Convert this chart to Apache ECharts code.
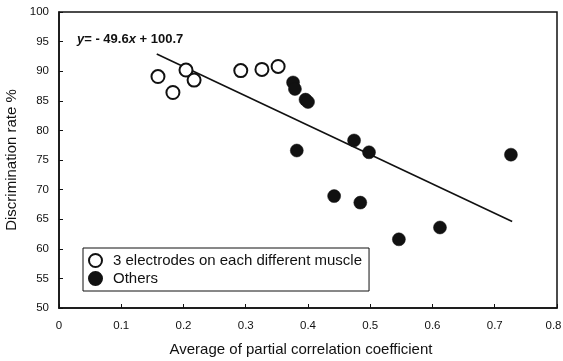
<!DOCTYPE html>
<html><head><meta charset="utf-8">
<script src="https://cdn.jsdelivr.net/npm/echarts@6/dist/echarts.min.js"></script>
<style>html,body{margin:0;padding:0;background:#fff}#c{width:563px;height:361px}</style>
</head><body><div id="c"></div>
<script>
const xTicks = [0, 0.1, 0.2, 0.3, 0.4, 0.5, 0.6, 0.7, 0.8];
const yTicks = [50, 55, 60, 65, 70, 75, 80, 85, 90, 95, 100];
const sameMuscle = [[0.159, 89.1], [0.183, 86.4], [0.204, 90.2], [0.217, 88.5], [0.292, 90.1], [0.326, 90.3], [0.352, 90.8]];
const others = [[0.376, 88.1], [0.379, 87.0], [0.396, 85.2], [0.400, 84.8], [0.382, 76.6], [0.474, 78.3], [0.498, 76.3], [0.726, 75.9], [0.442, 68.9], [0.484, 67.8], [0.546, 61.6], [0.612, 63.6]];
const fitLine = [[0.157, 92.9], [0.728, 64.6]];
const seriesNames = ['3 electrodes on each different muscle', 'Others'];

const chart = echarts.init(document.getElementById('c'));
const font = 'Liberation Sans, Arial, sans-serif';
chart.setOption({
  animation: false,
  textStyle: {fontFamily: font},
  grid: {left: 59, right: 6, top: 12, bottom: 53, show: true, borderColor: '#111', borderWidth: 1.5,
         containLabel: false, outerBoundsMode: 'none'},
  title: {
    left: 72, top: 28,
    text: '{i|y}{b|= - 49.6}{i|x}{b| + 100.7}',
    textStyle: {rich: {
      i: {fontStyle: 'italic', fontWeight: 'bold', fontSize: 13, fontFamily: font, color: '#111'},
      b: {fontWeight: 'bold', fontSize: 13, fontFamily: font, color: '#111'}
    }}
  },
  legend: {
    orient: 'vertical', left: 83, top: 248,
    data: seriesNames,
    icon: 'circle', itemWidth: 13, itemHeight: 13, itemGap: 3,
    padding: [5, 7, 5, 5],
    borderColor: '#111', borderWidth: 1, backgroundColor: '#fff',
    textStyle: {fontSize: 15, color: '#111', fontFamily: font, padding: [0, 0, 0, 6]}
  },
  xAxis: {
    type: 'value', min: 0, max: 0.8, interval: 0.1,
    name: 'Average of partial correlation coefficient', nameLocation: 'middle', nameGap: 34,
    nameTextStyle: {fontSize: 15, color: '#111', padding: [0, 14, 0, 0]},
    axisLine: {lineStyle: {color: '#111', width: 1.5}},
    axisTick: {inside: true, length: 4, lineStyle: {color: '#111'}},
    splitLine: {show: false},
    axisLabel: {fontSize: 11.5, color: '#111', margin: 12,
      rich: {r: {fontSize: 11.5, color: '#111', fontFamily: font, padding: [0, 7, 0, 0]}},
      formatter: v => {
        const t = Math.round(v*10)/10;
        if (!xTicks.includes(t)) return '';
        return t === 0.8 ? '{r|' + t + '}' : String(t);
      }}
  },
  yAxis: {
    type: 'value', min: 50, max: 100, interval: 5,
    name: 'Discrimination rate %', nameLocation: 'middle', nameGap: 32,
    nameTextStyle: {fontSize: 15, color: '#111'},
    axisLine: {lineStyle: {color: '#111', width: 1.5}},
    axisTick: {inside: true, length: 4, lineStyle: {color: '#111'}},
    splitLine: {show: false},
    axisLabel: {fontSize: 11.5, color: '#111', margin: 10, formatter: v => yTicks.includes(v) ? String(v) : ''}
  },
  series: [
    {name: seriesNames[0], type: 'scatter', data: sameMuscle, symbolSize: 13, z: 3,
     itemStyle: {color: '#fff', borderColor: '#111', borderWidth: 2, opacity: 1}},
    {name: seriesNames[1], type: 'scatter', data: others, symbolSize: 13, z: 3,
     itemStyle: {color: '#111', borderColor: '#111', borderWidth: 0.5, opacity: 1}},
    {name: 'fit', type: 'line', data: fitLine, symbol: 'none', z: 2,
     lineStyle: {color: '#111', width: 1.6}}
  ]
});
</script></body></html>
